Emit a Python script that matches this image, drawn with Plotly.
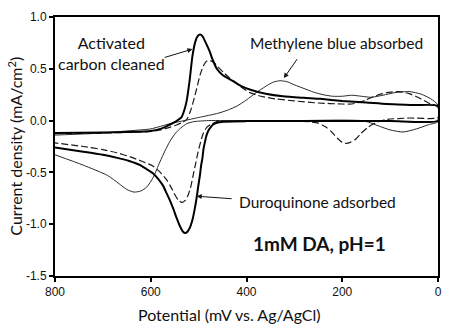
import plotly.graph_objects as go

# ---- Data ----
# Activated carbon cleaned (thick solid): anodic (upper) branch 800 -> 0, cathodic (lower) branch 0 -> 800
clean_up_x = [800, 700, 650, 600, 580, 565, 552, 542, 536, 530, 525, 519, 513, 507, 502, 497, 492, 486, 478, 470, 462, 450, 428, 410, 390, 360, 324, 280, 246, 200, 150, 107, 50, 0]
clean_up_y = [-0.12, -0.115, -0.11, -0.10, -0.08, -0.05, -0.02, 0.01, 0.03, 0.10, 0.19, 0.38, 0.62, 0.76, 0.815, 0.83, 0.815, 0.76, 0.68, 0.58, 0.50, 0.44, 0.38, 0.33, 0.295, 0.26, 0.235, 0.22, 0.21, 0.19, 0.175, 0.16, 0.15, 0.14]
clean_dn_x = [0, 100, 200, 300, 400, 448, 462, 469, 475, 480, 484, 487, 490, 492, 495, 497, 501, 504, 508, 513, 518, 523, 528, 533, 538, 546, 553, 560, 567, 574, 585, 595, 610, 622, 645, 670, 700, 741, 800]
clean_dn_y = [0.0, -0.003, -0.003, -0.003, -0.005, -0.01, -0.02, -0.035, -0.065, -0.10, -0.15, -0.21, -0.28, -0.36, -0.44, -0.52, -0.64, -0.74, -0.85, -0.96, -1.03, -1.07, -1.085, -1.07, -1.03, -0.94, -0.85, -0.77, -0.70, -0.63, -0.56, -0.51, -0.465, -0.43, -0.39, -0.36, -0.33, -0.30, -0.26]

# Duroquinone adsorbed (dashed)
duro_up_x = [800, 700, 600, 580, 560, 545, 535, 525, 518, 511, 504, 497, 490, 483, 476, 468, 460, 449, 435, 421, 407, 393, 370, 340, 300, 250, 200, 180, 165, 150, 135, 120, 100, 80, 60, 40, 20, 0]
duro_up_y = [-0.125, -0.12, -0.105, -0.09, -0.065, -0.04, -0.02, 0.01, 0.08, 0.185, 0.31, 0.44, 0.53, 0.575, 0.58, 0.56, 0.52, 0.47, 0.41, 0.36, 0.31, 0.27, 0.235, 0.21, 0.19, 0.17, 0.16, 0.16, 0.175, 0.20, 0.23, 0.255, 0.275, 0.28, 0.26, 0.22, 0.17, 0.13]
duro_dn_x = [0, 60, 110, 130, 145, 160, 172, 183, 192, 200, 210, 222, 235, 250, 270, 320, 400, 440, 462, 472, 483, 490, 494, 501, 506, 511, 516, 522, 528, 535, 542, 549, 558, 567, 580, 595, 620, 643, 671, 700, 741, 800]
duro_dn_y = [0.03, 0.025, 0.01, -0.02, -0.06, -0.12, -0.18, -0.21, -0.22, -0.21, -0.17, -0.11, -0.06, -0.025, -0.01, -0.005, -0.005, -0.005, -0.01, -0.03, -0.065, -0.12, -0.175, -0.30, -0.41, -0.52, -0.63, -0.72, -0.77, -0.79, -0.77, -0.72, -0.64, -0.57, -0.50, -0.44, -0.39, -0.35, -0.31, -0.28, -0.25, -0.215]

# Methylene blue absorbed (thin solid)
mb_up_x = [800, 700, 650, 600, 560, 530, 500, 460, 440, 420, 400, 380, 360, 345, 330, 315, 300, 280, 260, 240, 220, 200, 180, 160, 140, 115, 90, 60, 35, 15, 0]
mb_up_y = [-0.14, -0.12, -0.10, -0.08, -0.03, 0.0, 0.03, 0.07, 0.10, 0.14, 0.20, 0.27, 0.33, 0.37, 0.385, 0.375, 0.345, 0.31, 0.275, 0.25, 0.235, 0.235, 0.245, 0.235, 0.225, 0.245, 0.27, 0.28, 0.255, 0.21, 0.15]
mb_dn_x = [0, 20, 45, 73, 100, 125, 145, 160, 200, 300, 400, 480, 510, 525, 537, 548, 560, 570, 581, 595, 608, 621, 635, 650, 666, 690, 741, 800]
mb_dn_y = [-0.01, -0.04, -0.08, -0.11, -0.09, -0.05, -0.015, 0.0, 0.005, 0.0, 0.0, 0.0, -0.01, -0.03, -0.07, -0.12, -0.20, -0.29, -0.40, -0.55, -0.64, -0.68, -0.69, -0.665, -0.61, -0.53, -0.43, -0.33]

x_ticks = [800, 600, 400, 200, 0]
y_ticks = [1.0, 0.5, 0.0, -0.5, -1.0, -1.5]
y_tick_labels = ["1.0", "0.5", "0.0", "-0.5", "-1.0", "-1.5"]

TXT = "Lato, 'Open Sans', sans-serif"
TICK = "'Liberation Sans', Arial, sans-serif"

fig = go.Figure()
fig.add_trace(go.Scatter(x=mb_up_x + mb_dn_x, y=mb_up_y + mb_dn_y, mode="lines",
                         line=dict(color="#2a2a2a", width=1, shape="spline", smoothing=0.6),
                         showlegend=False, hoverinfo="skip"))
fig.add_trace(go.Scatter(x=duro_up_x + duro_dn_x, y=duro_up_y + duro_dn_y, mode="lines",
                         line=dict(color="#1a1a1a", width=1.2, dash="7px,3px", shape="spline", smoothing=0.6),
                         showlegend=False, hoverinfo="skip"))
fig.add_trace(go.Scatter(x=clean_up_x + clean_dn_x, y=clean_up_y + clean_dn_y, mode="lines",
                         line=dict(color="#000000", width=2, shape="spline", smoothing=0.6),
                         showlegend=False, hoverinfo="skip"))

ann = []
# texts
ann.append(dict(x=683, y=0.652, xref="x", yref="y", text="Activated<br>carbon cleaned", showarrow=False,
                font=dict(family=TXT, size=16, color="#111"), align="center"))
ann.append(dict(x=211, y=0.746, xref="x", yref="y", text="Methylene blue absorbed", showarrow=False,
                font=dict(family=TXT, size=15.5, color="#111")))
ann.append(dict(x=251, y=-0.786, xref="x", yref="y", text="Duroquinone adsorbed", showarrow=False,
                font=dict(family=TXT, size=15.5, color="#111")))
ann.append(dict(x=246.5, y=-1.19, xref="x", yref="y", text="<b>1mM DA, pH=1</b>", showarrow=False,
                font=dict(family=TXT, size=19, color="#111")))
# arrows
arrow_style = dict(showarrow=True, arrowhead=2, arrowsize=1, arrowwidth=1, arrowcolor="#111",
                   text="", axref="x", ayref="y", xref="x", yref="y")
ann.append(dict(x=513, y=0.69, ax=574, ay=0.605, **arrow_style))
ann.append(dict(x=322, y=0.41, ax=292, ay=0.608, **arrow_style))
ann.append(dict(x=504, y=-0.73, ax=428, ay=-0.755, **arrow_style))
# axis titles
ann.append(dict(x=0.456, y=-0.147, xref="paper", yref="paper", text="Potential (mV vs. Ag/AgCl)",
                showarrow=False, xanchor="center", yanchor="middle",
                font=dict(family=TXT, size=16, color="#111")))
ann.append(dict(x=-0.104, y=0.5, xref="paper", yref="paper", text="Current density (mA/cm<sup>2</sup>)",
                showarrow=False, xanchor="center", yanchor="middle", textangle=-90,
                font=dict(family=TXT, size=16, color="#111")))

fig.update_layout(
    width=463, height=332,
    margin=dict(l=55, r=25, t=10, b=56),
    paper_bgcolor="white", plot_bgcolor="white",
    annotations=ann,
    xaxis=dict(range=[800, 0], tickvals=x_ticks, ticktext=[str(v) for v in x_ticks],
               showgrid=False, zeroline=False, showline=True, linecolor="black", linewidth=2,
               mirror=True, ticks="outside", ticklen=4, tickwidth=1.5, tickcolor="black",
               tickfont=dict(family=TICK, size=12, color="#111")),
    yaxis=dict(range=[-1.5, 1.0], tickvals=y_ticks, ticktext=y_tick_labels,
               showgrid=False, zeroline=False, showline=True, linecolor="black", linewidth=2,
               mirror=True, ticks="outside", ticklen=4, tickwidth=1.5, tickcolor="black",
               tickfont=dict(family=TICK, size=12, color="#111")),
)

fig.write_html("out.html")
